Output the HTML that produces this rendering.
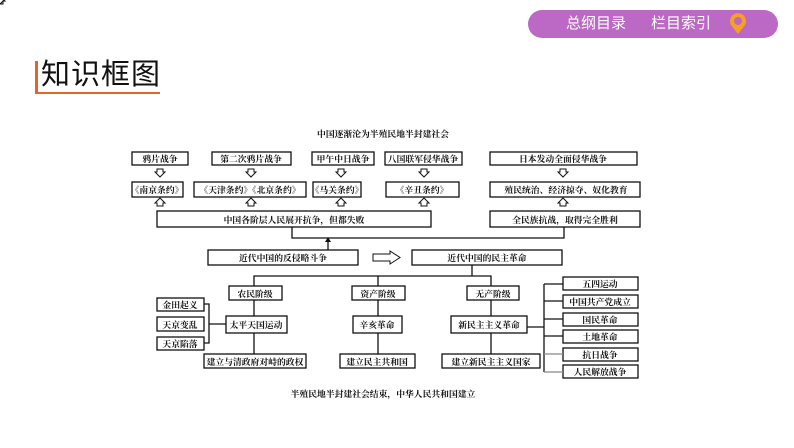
<!DOCTYPE html>
<html><head><meta charset="utf-8"><style>
body{margin:0;width:794px;height:448px;background:#fff;overflow:hidden;position:relative;font-family:"Liberation Sans","Noto Sans CJK SC",sans-serif}
.pill{position:absolute;left:528px;top:10px;width:250px;height:28px;border-radius:14px;background:#bb69c4;color:#fff;font-size:15px;line-height:28px}
.h{position:absolute;left:35px;top:61px;border-left:3px solid #e5632a;height:31px;}
.ht{position:absolute;left:41px;top:58px;font-size:29px;line-height:34px;color:#111;letter-spacing:1px}
.ul{position:absolute;left:35px;top:92px;width:125px;height:2px;background:#e5632a}
</style></head><body>
<div class="pill"><span style="position:absolute;left:38px">总纲目录</span><span style="position:absolute;left:123px">栏目索引</span>
<svg style="position:absolute;left:200px;top:3px" width="20" height="22" viewBox="0 0 20 22"><path d="M10 21 L3 12 A8 8 0 1 1 17 12 Z" fill="#f6a21e"/><circle cx="10" cy="8" r="4" fill="#bb69c4"/></svg></div>
<div class="h"></div><div class="ht">知识框图</div><div class="ul"></div>
<svg width="794" height="448" style="position:absolute;left:0;top:0" font-family="'Liberation Serif','Noto Serif CJK SC',serif" font-size="8.8" font-weight="bold" text-anchor="middle">
<g fill="none" stroke="#111" stroke-width="1.3">
<rect x="132" y="152" width="56" height="13"/><rect x="212" y="152" width="79" height="13"/><rect x="312" y="152" width="62" height="13"/><rect x="385" y="152" width="77" height="13"/><rect x="490" y="152" width="147" height="13"/>
<rect x="132" y="182" width="51" height="15"/><rect x="194" y="182" width="112" height="15"/><rect x="313" y="182" width="48" height="15"/><rect x="386" y="182" width="73" height="15"/><rect x="490" y="182" width="150" height="15"/>
<rect x="157" y="211" width="274" height="16"/><rect x="490" y="211" width="150" height="16"/>
<polyline points="292,227 292,238 564,238 564,227"/>
<line x1="328" y1="250" x2="328" y2="240"/>
<rect x="208" y="250" width="150" height="15"/><rect x="412" y="250" width="150" height="15"/>
<path d="M373 254 H390 V251 L400 257.5 L390 264 V261 H373 Z" stroke-width="1"/>
<line x1="472" y1="265" x2="472" y2="276"/>
<polyline points="254,286 254,276 491,276 491,286"/><line x1="378" y1="276" x2="378" y2="286"/>
<rect x="229" y="286" width="53" height="14"/><rect x="352" y="286" width="53" height="14"/><rect x="467" y="286" width="52" height="14"/>
<line x1="254" y1="300" x2="254" y2="354"/><line x1="378" y1="300" x2="378" y2="354"/><line x1="491" y1="300" x2="491" y2="354"/>
<rect x="157" y="298" width="47" height="13"/><rect x="157" y="317" width="47" height="14"/><rect x="157" y="337" width="47" height="13"/>
<polyline points="204,304 209,304 209,343 204,343"/><line x1="209" y1="324" x2="226" y2="324"/>
<rect x="226" y="316" width="61" height="17" fill="#fff"/><rect x="353" y="316" width="49" height="17" fill="#fff"/><rect x="451" y="316" width="76" height="17" fill="#fff"/>
<rect x="204" y="354" width="102" height="14"/><rect x="340" y="354" width="75" height="14"/><rect x="442" y="354" width="98" height="14"/>
<line x1="527" y1="327" x2="544" y2="327"/><line x1="544" y1="284" x2="544" y2="372"/>
<rect x="563" y="277" width="75" height="13"/><rect x="563" y="295" width="75" height="13"/><rect x="563" y="313" width="75" height="13"/><rect x="563" y="330" width="75" height="13"/><rect x="563" y="348" width="75" height="13"/><rect x="563" y="365" width="75" height="13"/>
<line x1="544" y1="284" x2="563" y2="284"/><line x1="544" y1="301" x2="563" y2="301"/><line x1="544" y1="319" x2="563" y2="319"/><line x1="544" y1="336" x2="563" y2="336"/><line x1="544" y1="354" x2="563" y2="354" stroke="#888"/><line x1="544" y1="372" x2="563" y2="372" stroke="#888"/>
</g>
<polygon points="325,242 328,237 331,242" fill="#111"/>
<g fill="none" stroke="#111" stroke-width="1">
<g id="d"><path d="M-3 -4 H3 V-1 H5 L0 4 L-5 -1 H-3 Z"/></g>
<use href="#d" x="160" y="173"/><use href="#d" x="251" y="173"/><use href="#d" x="341" y="173"/><use href="#d" x="424" y="173"/><use href="#d" x="563" y="173"/>
<g id="u"><path d="M-3 4 H3 V1 H5 L0 -4 L-5 1 H-3 Z"/></g>
<use href="#u" x="160" y="202"/><use href="#u" x="251" y="202"/><use href="#u" x="341" y="202"/><use href="#u" x="424" y="202"/><use href="#u" x="563" y="202"/>
</g>
<g fill="#111">
<text x="383" y="137">中国逐渐沦为半殖民地半封建社会</text>
<text x="160" y="162">鸦片战争</text><text x="251" y="162">第二次鸦片战争</text><text x="343" y="162">甲午中日战争</text><text x="423" y="162">八国联军侵华战争</text><text x="563" y="162">日本发动全面侵华战争</text>
<text x="157" y="193">《南京条约》</text><text x="250" y="193">《天津条约》《北京条约》</text><text x="337" y="193">《马关条约》</text><text x="422" y="193">《辛丑条约》</text><text x="566" y="193">殖民统治、经济掠夺、奴化教育</text>
<text x="294" y="223">中国各阶层人民展开抗争，但都失败</text><text x="565" y="223">全民族抗战，取得完全胜利</text>
<text x="283" y="261">近代中国的反侵略斗争</text><text x="487" y="261">近代中国的民主革命</text>
<text x="255" y="297">农民阶级</text><text x="378" y="297">资产阶级</text><text x="493" y="297">无产阶级</text>
<text x="180" y="308">金田起义</text><text x="180" y="328">天京变乱</text><text x="180" y="347">天京陷落</text>
<text x="256" y="328">太平天国运动</text><text x="377" y="328">辛亥革命</text><text x="489" y="328">新民主主义革命</text>
<text x="255" y="365">建立与清政府对峙的政权</text><text x="377" y="365">建立民主共和国</text><text x="491" y="365">建立新民主主义国家</text>
<text x="600" y="287">五四运动</text><text x="600" y="305">中国共产党成立</text><text x="600" y="323">国民革命</text><text x="600" y="340">土地革命</text><text x="600" y="358">抗日战争</text><text x="600" y="375">人民解放战争</text>
<text x="383" y="397">半殖民地半封建社会结束，中华人民共和国建立</text>
</g>
</svg>
</body></html>
